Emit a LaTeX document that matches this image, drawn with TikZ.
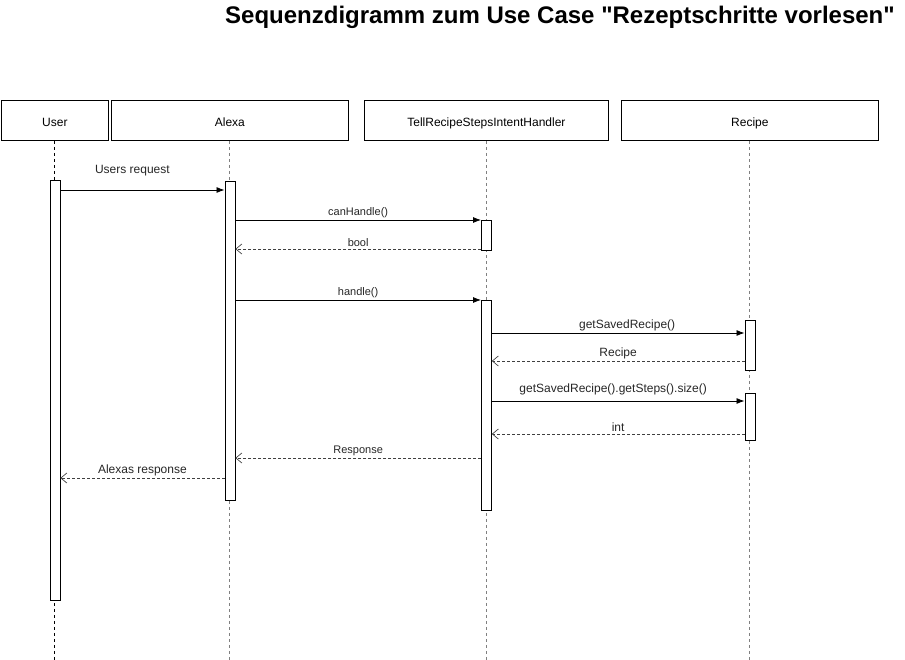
\documentclass[tikz,border=0pt]{standalone}
\usepackage{fontspec}
\setmainfont{Liberation Sans}
\usepackage{tikz}
\usetikzlibrary{positioning, arrows.meta}

\begin{document}
\begin{tikzpicture}[x=1pt, y=-1pt, >=Latex,
  head/.style={draw, line width=0.8pt, minimum height=40pt, inner sep=0pt, anchor=north west, text height=12.5pt, text depth=0pt, font=\fontsize{12}{14}\selectfont},
  act/.style={draw, fill=white, line width=0.8pt, minimum width=10pt, inner sep=0pt, anchor=north},
  life/.style={gray, line width=0.9pt, dash pattern=on 3pt off 3pt},
  call/.style={-{Latex[length=8pt,width=6pt]}, line width=0.8pt},
  reply/.style={-{Straight Barb[length=6pt,width=10pt,line width=0.7pt]}, black!75, line width=0.8pt, dash pattern=on 3pt off 2pt},
  lbl/.style={above, inner sep=2pt, text=black!85, font=\fontsize{11}{13}\selectfont},
  biglbl/.style={lbl, font=\fontsize{12}{14}\selectfont}]
  \useasboundingbox (0,0) rectangle (905,660);
  % Title
  \node[font=\bfseries\fontsize{24}{28}\selectfont] (title) at (560,17) {Sequenzdigramm zum Use Case \textquotedbl Rezeptschritte vorlesen\textquotedbl};
  % Heads
  \node[head, minimum width=107pt] (user) at (1,100) {User};
  \node[head, minimum width=237pt] (alexa) at (111,100) {Alexa};
  \node[head, minimum width=244pt] (handler) at (364,100) {TellRecipeStepsIntentHandler};
  \node[head, minimum width=257pt] (recipe) at (621,100) {Recipe};
  % Lifelines
  \draw[life, black] (user.south) -- (user.south |- 0,660);
  \foreach \n in {alexa, handler, recipe}
    \draw[life] (\n.south) -- (\n.south |- 0,660);
  % Activations
  \node[act, minimum height=420pt] (useract) at (user.south |- 0,180) {};
  \node[act, minimum height=319pt] (alexaact) at (alexa.south |- 0,181) {};
  \node[act, minimum height=30pt] (handleract1) at (handler.south |- 0,220) {};
  \node[act, minimum height=210pt] (handleract2) at (handler.south |- 0,300) {};
  \node[act, minimum height=50pt] (recipeact1) at (recipe.south |- 0,320) {};
  \node[act, minimum height=47pt] (recipeact2) at (recipe.south |- 0,393) {};
  % Messages
  \draw[call] (useract.east |- 0,190) -- (alexaact.west |- 0,190)
    node[biglbl, midway, above=12pt, xshift=-10pt] {Users request};
  \draw[call] (alexaact.east |- 0,220) -- (handleract1.west |- 0,220)
    node[lbl, midway] {canHandle()};
  \draw[reply] (handleract1.west |- 0,249) -- (alexaact.east |- 0,249)
    node[lbl, midway] {bool};
  \draw[call] (alexaact.east |- 0,300) -- (handleract2.west |- 0,300)
    node[lbl, midway] {handle()};
  \draw[call] (handleract2.east |- 0,333) -- (recipeact1.west |- 0,333)
    node[biglbl, midway, xshift=9pt] {getSavedRecipe()};
  \draw[reply] (recipeact1.west |- 0,361) -- (handleract2.east |- 0,361)
    node[biglbl, midway] {Recipe};
  \draw[call] (handleract2.east |- 0,401) -- (recipeact2.west |- 0,401)
    node[biglbl, midway, above=4pt, xshift=-5pt] {getSavedRecipe().getSteps().size()};
  \draw[reply] (recipeact2.west |- 0,434) -- (handleract2.east |- 0,434)
    node[biglbl, midway] {int};
  \draw[reply] (handleract2.west |- 0,458) -- (alexaact.east |- 0,458)
    node[lbl, midway] {Response};
  \draw[reply] (alexaact.west |- 0,478) -- (useract.east |- 0,478)
    node[biglbl, midway] {Alexas response};
\end{tikzpicture}
\end{document}
